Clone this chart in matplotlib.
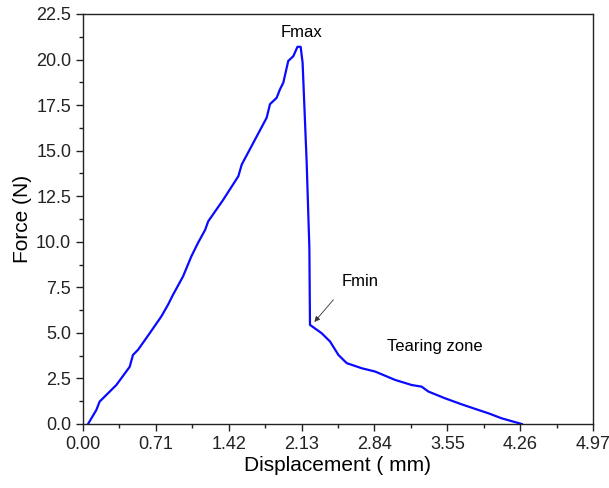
import numpy as np
import matplotlib.pyplot as plt
from matplotlib.ticker import MultipleLocator, AutoMinorLocator

plt.rcParams['font.family'] = ['Liberation Sans', 'DejaVu Sans']

# Force-displacement curve
displacement_mm = [0.049, 0.13, 0.162, 0.325, 0.455, 0.487, 0.536, 0.65, 0.763,
                   0.828, 0.877, 0.975, 1.056, 1.12, 1.19, 1.22, 1.367, 1.514,
                   1.547, 1.79, 1.822, 1.887, 1.92, 1.952, 2.0, 2.05, 2.09,
                   2.121, 2.14, 2.18, 2.206, 2.212, 2.326, 2.407, 2.489, 2.57,
                   2.716, 2.846, 3.041, 3.203, 3.3, 3.366, 3.528, 3.69, 3.853,
                   3.95, 4.081, 4.276]
force_n = [0.0, 0.77, 1.23, 2.14, 3.14, 3.79, 4.07, 4.98, 5.9,
           6.54, 7.09, 8.1, 9.2, 9.93, 10.65, 11.12, 12.31, 13.6,
           14.24, 16.81, 17.55, 17.9, 18.37, 18.73, 19.92, 20.19, 20.7,
           20.7, 19.83, 14.3, 9.66, 5.44, 4.98, 4.53, 3.79, 3.34,
           3.06, 2.88, 2.42, 2.14, 2.05, 1.78, 1.41, 1.08, 0.77,
           0.59, 0.31, 0.0]

x_ticks = [0.00, 0.71, 1.42, 2.13, 2.84, 3.55, 4.26, 4.97]

fig = plt.figure(figsize=(6.09, 4.88), dpi=100)
ax = fig.add_axes([83 / 609, 1 - 424 / 488, 510 / 609, 410 / 488])

ax.plot(displacement_mm, force_n, color='#0a0aff', lw=1.6)

ax.set_xlim(0, 4.97)
ax.set_ylim(0, 22.5)
ax.set_xticks(x_ticks)
ax.set_xticklabels([f"{v:.2f}" for v in x_ticks])
ax.xaxis.set_minor_locator(AutoMinorLocator(2))
ax.yaxis.set_major_locator(MultipleLocator(2.5))
ax.yaxis.set_minor_locator(AutoMinorLocator(2))
ax.yaxis.set_major_formatter(plt.FormatStrFormatter('%.1f'))

ax.tick_params(which='both', direction='out', top=False, right=False,
               labelsize=13, colors='#222222')
ax.tick_params(which='major', length=5, width=1)
ax.tick_params(which='minor', length=3, width=1)
for s in ax.spines.values():
    s.set_linewidth(1.0)
    s.set_color('#222222')

ax.set_xlabel('Displacement ( mm)', fontsize=15, labelpad=2)
ax.set_ylabel('Force (N)', fontsize=15, labelpad=3)

# annotations
ax.text(2.134, 21.5, 'Fmax', fontsize=12, ha='center', va='center')
ax.text(2.70, 7.82, 'Fmin', fontsize=12, ha='center', va='center')
ax.text(3.43, 4.25, 'Tearing zone', fontsize=12, ha='center', va='center')
ax.annotate('', xy=(2.255, 5.6), xytext=(2.44, 6.82),
            arrowprops=dict(arrowstyle='-|>', color='#333333', lw=0.6,
                            mutation_scale=8, shrinkA=0, shrinkB=0,
                            facecolor='black'))

fig.savefig('out.png', dpi=100)
